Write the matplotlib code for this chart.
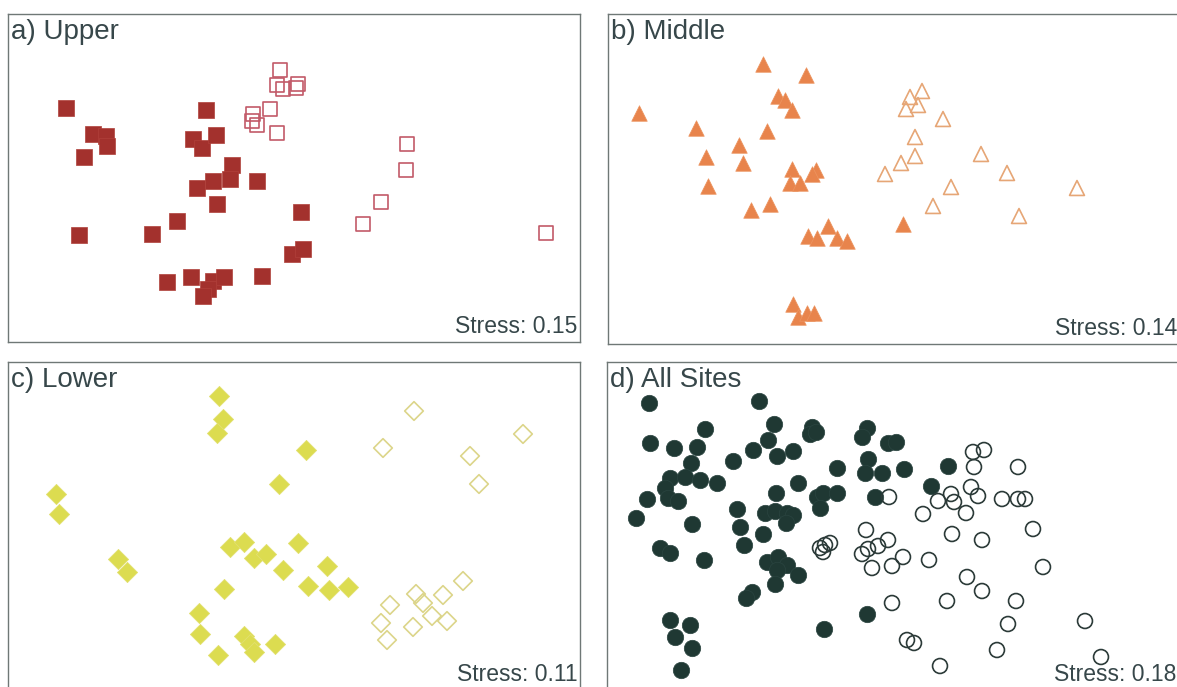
import matplotlib
matplotlib.use("Agg")
import matplotlib.pyplot as plt

plt.rcParams['font.family'] = ['Liberation Sans', 'DejaVu Sans']

# NMDS ordination scores per zone (plot units, y grows downward)
upper_fill_x = [66, 93, 106, 107, 84, 206, 193, 202, 216, 232, 213, 230, 257, 197,
                217, 301, 79, 152, 177, 292, 303, 167, 191, 213, 224, 208, 203, 262]
upper_fill_y = [108, 134, 136, 146, 157, 110, 139, 148, 135, 165, 181, 179, 181, 188,
                204, 212, 235, 234, 221, 254, 249, 282, 277, 281, 277, 289, 296, 276]
upper_open_x = [280, 277, 283, 296, 298, 270, 253, 252, 257, 277, 407, 406, 381, 363, 546]
upper_open_y = [70, 85, 89, 88, 84, 109, 114, 121, 125, 133, 144, 170, 202, 224, 233]

middle_fill_x = [763, 806, 778, 785, 792, 639, 696, 767, 739, 706, 743, 792, 816, 812, 790,
                 800, 708, 751, 770, 828, 808, 817, 837, 847, 793, 798, 807, 814, 903]
middle_fill_y = [64, 75, 96, 100, 110, 113, 128, 131, 145, 157, 163, 169, 170, 174, 183,
                 183, 186, 210, 204, 226, 236, 238, 238, 241, 304, 317, 313, 313, 224]
middle_open_x = [922, 910, 918, 906, 943, 915, 915, 901, 885, 981, 1007, 951, 933, 1019, 1077]
middle_open_y = [91, 97, 105, 109, 119, 137, 156, 163, 174, 154, 173, 187, 206, 216, 188]

lower_fill_x = [219, 223, 217, 306, 56, 59, 279, 230, 244, 254, 266, 298, 118, 127,
                283, 327, 308, 329, 348, 224, 199, 200, 244, 250, 254, 275, 218]
lower_fill_y = [396, 419, 433, 450, 494, 514, 484, 547, 542, 558, 554, 543, 559, 572,
                570, 566, 586, 590, 587, 589, 613, 634, 636, 644, 652, 644, 655]
lower_open_x = [414, 383, 523, 470, 479, 463, 443, 416, 423, 390, 432, 447, 381, 413, 387]
lower_open_y = [411, 448, 434, 456, 484, 581, 595, 594, 603, 605, 616, 621, 623, 627, 640]

all_fill_x = [649, 759, 705, 650, 674, 697, 691, 733, 753, 774, 768, 777, 793, 812, 810,
              816, 867, 862, 837, 868, 865, 882, 888, 896, 670, 685, 700, 717, 665, 668,
              678, 647, 636, 692, 737, 740, 744, 763, 776, 798, 765, 775, 787, 793, 786,
              817, 823, 837, 820, 875, 660, 670, 704, 767, 778, 787, 777, 798, 775, 752,
              746, 670, 690, 675, 692, 681, 824, 867, 904, 948, 931]
all_fill_y = [403, 401, 429, 443, 448, 447, 463, 461, 450, 424, 440, 456, 451, 427, 434,
              432, 428, 437, 468, 459, 473, 473, 443, 442, 478, 477, 480, 483, 488, 498,
              501, 499, 518, 524, 509, 527, 545, 534, 493, 483, 513, 511, 513, 515, 523,
              497, 493, 493, 508, 497, 548, 553, 560, 562, 557, 565, 570, 575, 584, 592,
              598, 620, 625, 637, 648, 670, 629, 614, 469, 466, 486]
all_open_x = [973, 984, 974, 1018, 971, 978, 951, 954, 938, 966, 923, 889, 1002, 1018, 1025,
              1033, 866, 952, 982, 888, 878, 868, 862, 903, 892, 872, 929, 1043, 967, 982,
              947, 1016, 892, 1008, 1085, 907, 914, 997, 940, 1101, 820, 825, 830, 823]
all_open_y = [452, 450, 467, 467, 487, 496, 494, 502, 501, 513, 514, 497, 499, 499, 499,
              529, 530, 534, 540, 540, 546, 549, 554, 557, 566, 568, 560, 567, 577, 591,
              601, 601, 603, 624, 621, 640, 643, 650, 666, 657, 548, 545, 543, 552]

titles = ["a) Upper", "b) Middle", "c) Lower", "d) All Sites"]
stress = [0.15, 0.14, 0.11, 0.18]

W, H = 1177, 687
fig = plt.figure(figsize=(W / 100, H / 100), dpi=100)


def panel(left, top, w, h):
    ax = fig.add_axes([left / W, 1 - (top + h) / H, w / W, h / H])
    ax.set_xlim(left, left + w)
    ax.set_ylim(top + h, top)
    ax.set_xticks([])
    ax.set_yticks([])
    for sp in ax.spines.values():
        sp.set_color('#6f7876')
        sp.set_linewidth(1.0)
    return ax


frames = [(8, 14, 572, 328), (608, 14, 572, 330), (8, 362, 572, 328), (607, 362, 572, 328)]
axes = [panel(*f) for f in frames]

ax = axes[0]
ax.scatter(upper_fill_x, upper_fill_y, marker='s', s=125, color='#a3312d',
           edgecolors='#b0403a', linewidths=0.5, zorder=2)
ax.scatter(upper_open_x, upper_open_y, marker='s', s=105, facecolors='none',
           edgecolors='#c25a68', linewidths=1.2, zorder=3)

ax = axes[1]
ax.scatter(middle_fill_x, middle_fill_y, marker='^', s=125, color='#e8844c',
           edgecolors='#ec9460', linewidths=0.5, zorder=2)
ax.scatter(middle_open_x, middle_open_y, marker='^', s=115, facecolors='none',
           edgecolors='#e6a676', linewidths=1.2, zorder=3)

ax = axes[2]
ax.scatter(lower_fill_x, lower_fill_y, marker='D', s=105, color='#dcdc50',
           edgecolors='#e2e070', linewidths=0.6, zorder=2)
ax.scatter(lower_open_x, lower_open_y, marker='D', s=90, facecolors='none',
           edgecolors='#dcd58a', linewidths=1.2, zorder=3)

ax = axes[3]
ax.scatter(all_fill_x, all_fill_y, marker='o', s=140, color='#1f3833',
           edgecolors='#2a4440', linewidths=0.5, zorder=2)
ax.scatter(all_open_x, all_open_y, marker='o', s=115, facecolors='none',
           edgecolors='#2b3a38', linewidths=1.2, zorder=3)

for ax, t, st in zip(axes, titles, stress):
    ax.text(0.006, 0.985, t, transform=ax.transAxes, ha='left', va='top',
            fontsize=20, color='#37474a')
    ax.text(0.995, 0.012, "Stress: %.2f" % st, transform=ax.transAxes, ha='right',
            va='bottom', fontsize=16.5, color='#37474a')

fig.savefig("out.png", dpi=100)
